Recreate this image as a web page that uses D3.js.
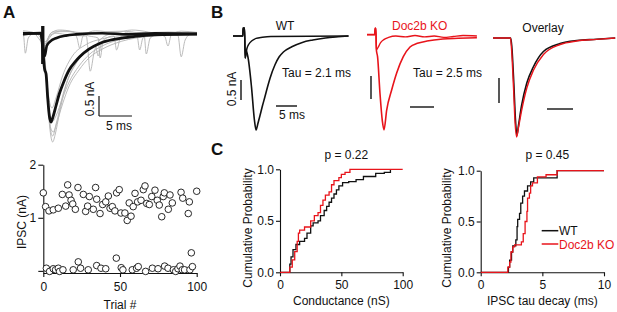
<!DOCTYPE html>
<html>
<head>
<meta charset="utf-8">
<script src="https://cdn.jsdelivr.net/npm/d3@7"></script>
<style>
  body { margin: 0; background: #fff; }
  text { font-family: "Liberation Sans", Arial, sans-serif; }
</style>
</head>
<body>
<div id="chart"></div>
<script>
"use strict";

// === Panel A top: IPSC traces, [time (ms), current (nA)] ===
const traceA_mean = [[0,0],[2.7,0.02],[3.3,-0.9],[3.5,-1.0],[3.75,-1.6],[4.0,-2.05],[4.25,-2.2],[4.5,-2.1],[5,-1.8],[5.5,-1.5],[6.1,-1.23],[7,-0.9],[8,-0.68],[8.6,-0.57],[10,-0.38],[11.7,-0.23],[14,-0.13],[17,-0.06],[20,-0.02],[26.4,0]];
const traceA_fail = [[0,0.02],[2.7,0.02],[3.3,-0.55],[3.6,-0.3],[4.1,-0.19],[5.1,-0.1],[6.5,-0.04],[8,-0.01],[12,0.02],[16,-0.01],[20,0.02],[26.4,0]];
const greyA = [
  [[0,0.03],[2.8,0],[3.3,-0.7],[3.7,-1.6],[4.1,-2.4],[4.5,-2.7],[4.9,-2.5],[5.5,-2.0],[6.5,-1.3],[8,-0.75],[10,-0.4],[13,-0.17],[17,-0.05],[22,0],[26.4,0.02]],
  [[0,0],[2.8,0],[3.3,-0.6],[3.7,-1.3],[4.1,-1.75],[4.4,-1.85],[5,-1.6],[6,-1.05],[7.5,-0.55],[9.5,-0.27],[12,-0.12],[16,-0.03],[26.4,0]],
  [[0,-0.02],[2.8,0],[3.3,-0.65],[3.7,-1.45],[4.1,-2.05],[4.4,-2.2],[5,-2.05],[6,-1.6],[7,-1.2],[8.5,-0.8],[10,-0.52],[12,-0.3],[15,-0.13],[20,-0.03],[26.4,0]],
  [[0,0.02],[2.8,0],[3.3,-0.6],[3.7,-1.5],[4.1,-2.3],[4.5,-2.55],[5,-2.3],[6,-1.75],[7,-1.3],[8.5,-0.9],[10,-0.6],[12,-0.38],[15,-0.18],[19,-0.06],[26.4,0.01]],
  [[0,0.05],[2.8,0.02],[3.3,-0.7],[3.8,-1.7],[4.2,-2.35],[4.6,-2.45],[5.1,-2.2],[6,-1.55],[7,-1.05],[8.5,-0.62],[10,-0.4],[11,-0.3],[11.4,-0.55],[11.9,-0.25],[14,-0.12],[18,-0.03],[22,0.04],[26.4,0.03]],
  [[0,0],[0.1,-0.05],[0.35,-0.48],[0.8,-0.1],[1.5,0],[2.75,0],[3.3,-0.35],[4,-0.1],[5,0.02],[7,-0.03],[9.6,-0.05],[10.2,-0.93],[10.8,-0.45],[12,-0.1],[13.5,0],[16,-0.04],[17.3,-0.05],[17.7,-0.4],[18.2,-0.1],[20,0.02],[23.5,-0.03],[24,-0.57],[24.6,-0.15],[25.5,0],[26.4,0]],
  [[0,0.03],[3,0],[3.3,-0.3],[4,-0.05],[6,0.08],[8,0.04],[10,-0.05],[11.4,-0.1],[11.7,-0.6],[12.2,-0.15],[13.8,-0.05],[14.2,-0.4],[14.8,-0.08],[16,0.05],[18.4,-0.05],[18.7,-0.5],[19.3,-0.1],[21,0.03],[23,0],[26.4,0.02]],
  [[0,-0.03],[2,0.02],[3.3,-0.2],[4.5,0.05],[7,0.06],[9,0.03],[12,0.05],[15,0.07],[18,0.03],[22,0.05],[26.4,0]],
  [[0,0.08],[1.5,0.04],[3.3,-0.25],[4.2,0.02],[5.5,0.1],[7.5,0.06],[8.2,-0.1],[8.6,-0.35],[9.1,-0.05],[11,0.08],[14,0.04],[16.5,0.1],[19,0.05],[21.5,-0.06],[22,-0.3],[22.5,-0.02],[24,0.07],[26.4,0.04]]
];
const artifactA = { t0: 2.75, t1: 3.25, top: 0.2, bottom: -0.75 };

// === Panel A bottom: IPSC amplitude per trial ===
const trialNum = [0,1.5,3.7,6.5,9.8,12.4,14.6,15.9,16.8,18.1,19.2,20.9,22.6,26.1,27.6,28.9,30,32.6,34.1,34.8,37,38.7,40.7,42.4,43.5,45,46.7,47.8,49.5,50.6,53.2,54.7,56,57.2,58.6,59.8,61.5,63.7,65.2,66.3,67.4,69.1,70.7,72.8,74.3,75.6,77.2,78.2,78.9,81.5,82.6,84.1,89.8,90.9,94.5,95.2,100,
  2,4.1,6.5,8,9.8,10.6,12.8,19.5,22.8,24.3,29.3,34.8,37.6,40.7,47.6,50.8,51.9,58,60.8,61.9,66.7,71.1,74.8,79.1,81.3,84.8,86.3,87.8,89.1,90.6,92.1,95.6,96.5,97.2];
const ipscAmp = [1.47,1.21,1.13,1.15,1.18,1.44,1.22,1.62,1.43,1.33,1.26,1.16,1.57,1.44,1.12,1.22,1.40,1.16,1.57,1.35,1.08,1.25,1.30,1.41,1.18,1.21,1.13,1.47,1.53,1.09,1.09,0.95,1.28,1.03,1.21,1.46,1.30,1.33,1.53,1.60,1.27,1.25,1.40,1.52,1.33,1.24,1.02,1.40,1.47,1.16,1.43,1.28,1.48,1.37,1.08,1.30,1.50,
  0.05,-0.01,0.04,0.02,0.05,-0.01,0.02,0.02,0.17,0.05,0.02,0.10,0.05,0.04,0.24,0.06,0.02,0.02,0.05,0.08,-0.01,0.05,0.04,0.09,0.05,0.02,-0.01,0.04,0.09,0.02,0.02,0.02,0.34,0.08];

// === Panel B: averaged traces ===
const traceWT = [[0,0],[2.35,0],[2.4,0.2],[2.75,0.2],[2.9,-0.55],[3.1,-0.35],[3.4,-0.45],[3.6,-0.55],[4.4,-1.27],[5.1,-2.1],[5.5,-2.35],[5.9,-2.2],[6.4,-2.0],[7,-1.75],[7.6,-1.52],[8.2,-1.28],[8.8,-1.06],[10,-0.72],[11,-0.52],[12,-0.4],[14,-0.27],[16.5,-0.16],[19,-0.1],[22,-0.05],[25,-0.02],[27.5,0]];
const traceWT_fail = [[0,0],[2.35,0],[2.4,0.2],[2.75,0.2],[2.9,-0.55],[3.3,-0.32],[3.8,-0.2],[4.5,-0.12],[5.5,-0.06],[7,-0.03],[9,-0.01],[27.5,0]];
const traceKO = [[0,0.03],[1.6,0.03],[1.7,0.17],[1.85,0.17],[1.95,-0.3],[2.2,-0.45],[2.7,-1.24],[3.2,-1.85],[3.54,-2.04],[4.1,-1.61],[5.15,-1.17],[6.2,-0.8],[7.56,-0.45],[8.96,-0.24],[10.5,-0.16],[12.5,-0.11],[15.8,-0.065],[19,-0.05],[22.9,-0.037]];
const traceKO_fail = [[0,0.03],[1.6,0.03],[1.7,0.17],[1.85,0.17],[1.95,-0.3],[2.3,-0.25],[2.8,-0.15],[3.5,-0.08],[4.5,-0.03],[6,0],[8,-0.02],[10,0.01],[12,-0.02],[14,0],[16,-0.03],[18,-0.01],[20,0.01],[22.9,0]];
const overlayWT = [[0,0],[3.4,0],[3.6,-0.15],[4.0,-0.9],[4.3,-1.6],[4.6,-1.94],[4.9,-1.75],[5.5,-1.35],[6.5,-0.9],[7.75,-0.58],[9.7,-0.27],[12.9,-0.11],[16.1,-0.05],[19.9,-0.026],[23.5,0]];
const overlayKO = [[0,0],[3.35,0],[3.55,-0.2],[3.95,-1.0],[4.25,-1.7],[4.55,-1.98],[4.85,-1.82],[5.5,-1.45],[6.5,-1.0],[7.75,-0.65],[9.7,-0.33],[12.9,-0.13],[16.1,-0.06],[19.9,-0.028],[23.5,0]];

// === Panel C: cumulative distributions (step x, cumulative probability) ===
const condWT_x = [0,6.5,8,9,10.6,13,16,20,22,25,27,31,33,36,38,40,42,44,46,48,51,56,62,68,78,85,90];
const condWT_p = [0,0,0.08,0.15,0.22,0.27,0.3,0.33,0.38,0.45,0.48,0.5,0.55,0.6,0.64,0.68,0.72,0.76,0.8,0.84,0.87,0.88,0.9,0.93,0.96,0.97,1.0];
const condKO_x = [0,6.5,8,10,12,14,15,16,20,25,28,31,33,35,37,40,42,44,48,50,53,57,100];
const condKO_p = [0,0,0.05,0.12,0.2,0.3,0.38,0.41,0.44,0.5,0.55,0.58,0.65,0.7,0.75,0.78,0.85,0.89,0.92,0.95,0.97,1.0,1.0];
const tauWT_x = [0,2.15,2.25,2.35,2.5,2.6,2.85,2.95,3.0,3.15,3.25,3.4,3.55,3.8,4.05,4.3,6.2,10];
const tauWT_p = [0,0,0.05,0.12,0.2,0.26,0.32,0.45,0.52,0.58,0.68,0.75,0.8,0.85,0.89,0.93,1.0,1.0];
const tauKO_x = [0,2.05,2.2,2.35,2.45,2.6,2.75,3.3,3.45,3.6,3.75,3.8,3.95,4.05,4.2,4.6,5.3,6.2,10];
const tauKO_p = [0,0,0.05,0.1,0.2,0.25,0.27,0.3,0.38,0.5,0.6,0.73,0.78,0.85,0.88,0.94,0.96,1.0,1.0];

const RED = "#e8141b";
const INK = "#111";

// === SVG setup ===
const svg = d3.select("#chart").append("svg")
  .attr("width", 617)
  .attr("height", 312);
svg.append("rect").attr("width", 617).attr("height", 312).attr("fill", "#fff");

function drawTrace(data, xs, ys, color, width) {
  svg.append("path")
    .datum(data)
    .attr("d", d3.line().x(d => xs(d[0])).y(d => ys(d[1])).curve(d3.curveMonotoneX))
    .attr("fill", "none")
    .attr("stroke", color)
    .attr("stroke-width", width)
    .attr("stroke-linejoin", "round");
}

function addText(x, y, str, opts = {}) {
  const t = svg.append("text")
    .attr("x", x).attr("y", y)
    .attr("font-size", opts.size || 12)
    .attr("fill", opts.color || INK)
    .attr("text-anchor", opts.anchor || "start")
    .text(str);
  if (opts.bold) t.attr("font-weight", "bold");
  if (opts.rotate) t.attr("transform", `rotate(-90, ${x}, ${y})`);
  return t;
}

function line(x1, y1, x2, y2, color, w) {
  svg.append("line").attr("x1", x1).attr("y1", y1).attr("x2", x2).attr("y2", y2)
    .attr("stroke", color || INK).attr("stroke-width", w || 1.3);
}

function styleAxis(g) {
  g.attr("font-size", 12).attr("font-family", "'Liberation Sans', Arial, sans-serif");
  g.selectAll("path, line").attr("stroke", INK).attr("stroke-width", 1.1);
  g.selectAll("text").attr("fill", INK);
}

// === Panel letters ===
addText(3, 18, "A", { size: 17, bold: true });
addText(211, 18, "B", { size: 17, bold: true });
addText(211, 155, "C", { size: 17, bold: true });

// === Panel A traces ===
const xA = d3.scaleLinear().domain([0, 26.4]).range([23, 197]);
const yA = d3.scaleLinear().domain([0, -1]).range([34, 74]);

greyA.forEach(tr => drawTrace(tr, xA, yA, "#b3b3b3", 0.9));
drawTrace(traceA_fail, xA, yA, INK, 2.6);
drawTrace(traceA_mean, xA, yA, INK, 2.8);
svg.append("rect")
  .attr("x", xA(artifactA.t0))
  .attr("y", yA(artifactA.top))
  .attr("width", xA(artifactA.t1) - xA(artifactA.t0))
  .attr("height", yA(artifactA.bottom) - yA(artifactA.top))
  .attr("fill", INK);

// scale bar: 0.5 nA, 5 ms
const barA = { x: 99, y: 116 };
line(barA.x, barA.y, barA.x, barA.y - (yA(-0.5) - yA(0)), INK, 1.2);
line(barA.x, barA.y, barA.x + (xA(5) - xA(0)), barA.y, INK, 1.2);
addText(94, 99, "0.5 nA", { anchor: "middle", rotate: true });
addText(119, 130, "5 ms", { anchor: "middle" });

// === Panel A scatter ===
const xS = d3.scaleLinear().domain([0, 100]).range([43.3, 196.7]);
const yS = d3.scaleLinear().domain([-0.04, 2]).range([273, 164.7]);

svg.append("g")
  .attr("transform", `translate(0, ${yS(-0.04)})`)
  .call(d3.axisBottom(xS).tickValues([0, 50, 100]).tickSize(4).tickSizeOuter(0).tickPadding(5))
  .call(styleAxis);
svg.append("g")
  .attr("transform", `translate(${xS(0)}, 0)`)
  .call(d3.axisLeft(yS).tickValues([0, 1, 2]).tickSize(5).tickSizeOuter(0).tickPadding(2)
    .tickFormat(d => d === 0 ? "" : d))
  .call(styleAxis);

svg.append("g").selectAll("circle")
  .data(trialNum.map((t, i) => [t, ipscAmp[i]]))
  .join("circle")
  .attr("cx", d => xS(d[0]))
  .attr("cy", d => yS(d[1]))
  .attr("r", 3.3)
  .attr("fill", "#fff")
  .attr("stroke", INK)
  .attr("stroke-width", 0.9);

addText(26, 222, "IPSC (nA)", { anchor: "middle", rotate: true });
addText(120, 309, "Trial #", { anchor: "middle" });

// === Panel B traces ===
const xWT = d3.scaleLinear().domain([0, 27.5]).range([233, 233 + 27.5 * 4.2]);
const yWT = d3.scaleLinear().domain([0, -1]).range([36, 76]);
drawTrace(traceWT_fail, xWT, yWT, INK, 1.5);
drawTrace(traceWT, xWT, yWT, INK, 1.6);
line(241, 100, 241, 100 - (yWT(-0.5) - yWT(0)), INK, 1.4);
line(276, 106, 276 + (xWT(5) - xWT(0)), 106, INK, 1.4);
addText(236, 89, "0.5 nA", { anchor: "middle", rotate: true });
addText(292, 119, "5 ms", { anchor: "middle" });
addText(285, 30, "WT", { anchor: "middle" });
addText(282, 77, "Tau = 2.1 ms");

const xKO = d3.scaleLinear().domain([0, 22.9]).range([367, 367 + 22.9 * 4.8]);
const yKO = d3.scaleLinear().domain([0, -1]).range([36, 82]);
drawTrace(traceKO_fail, xKO, yKO, RED, 1.4);
drawTrace(traceKO, xKO, yKO, RED, 1.6);
line(371, 99, 371, 99 - (yKO(-0.5) - yKO(0)), INK, 1.4);
line(410, 107, 410 + (xKO(5) - xKO(0)), 107, INK, 1.4);
addText(392, 30, "Doc2b KO", { color: RED });
addText(413, 77, "Tau = 2.5 ms");

const xOv = d3.scaleLinear().domain([0, 23.5]).range([493, 493 + 23.5 * 5.2]);
const yOv = d3.scaleLinear().domain([0, -1]).range([38, 88]);
drawTrace(overlayWT, xOv, yOv, INK, 1.6);
drawTrace(overlayKO, xOv, yOv, RED, 1.4);
line(499, 103, 499, 103 - (yOv(-0.5) - yOv(0)), INK, 1.4);
line(547, 109, 547 + (xOv(5) - xOv(0)), 109, INK, 1.4);
addText(543, 32, "Overlay", { anchor: "middle" });

// === Panel C: cumulative plots ===
function cdfPanel(xs, ys, xTicks, series, pText, xLabel, ylabelX) {
  svg.append("g")
    .attr("transform", `translate(0, ${ys(0)})`)
    .call(d3.axisBottom(xs).tickValues(xTicks).tickSize(4).tickSizeOuter(0).tickPadding(4))
    .call(styleAxis);
  svg.append("g")
    .attr("transform", `translate(${xs(0)}, 0)`)
    .call(d3.axisLeft(ys).tickValues([0, 0.5, 1]).tickSize(4).tickSizeOuter(0).tickPadding(2)
      .tickFormat(d3.format(".1f")))
    .call(styleAxis);
  series.forEach(s => {
    svg.append("path")
      .datum(s.x.map((v, i) => [v, s.p[i]]))
      .attr("d", d3.line().x(d => xs(d[0])).y(d => ys(d[1])).curve(d3.curveStepAfter))
      .attr("fill", "none")
      .attr("stroke", s.color)
      .attr("stroke-width", 1.3);
  });
  const mid = (xs.range()[0] + xs.range()[1]) / 2;
  addText(mid + 5, 159, pText, { anchor: "middle" });
  addText(mid, 305, xLabel, { anchor: "middle" });
  addText(ylabelX, 228, "Cumulative Probability", { anchor: "middle", rotate: true });
}

const xC1 = d3.scaleLinear().domain([0, 100]).range([280, 402.7]);
const yC1 = d3.scaleLinear().domain([0, 1]).range([272.3, 169.3]);
cdfPanel(xC1, yC1, [0, 50, 100], [
  { x: condWT_x, p: condWT_p, color: INK },
  { x: condKO_x, p: condKO_p, color: RED }
], "p = 0.22", "Conductance (nS)", 252);

const xC2 = d3.scaleLinear().domain([0, 10]).range([480.7, 604]);
const yC2 = d3.scaleLinear().domain([0, 1]).range([272.3, 170.7]);
cdfPanel(xC2, yC2, [0, 5, 10], [
  { x: tauWT_x, p: tauWT_p, color: INK },
  { x: tauKO_x, p: tauKO_p, color: RED }
], "p = 0.45", "IPSC tau decay (ms)", 451);

// legend
line(541.7, 230.7, 558.3, 230.7, INK, 1.5);
addText(559, 235, "WT");
line(541.7, 244, 558.3, 244, RED, 1.5);
addText(559, 248.5, "Doc2b KO", { color: RED });
</script>
</body>
</html>
